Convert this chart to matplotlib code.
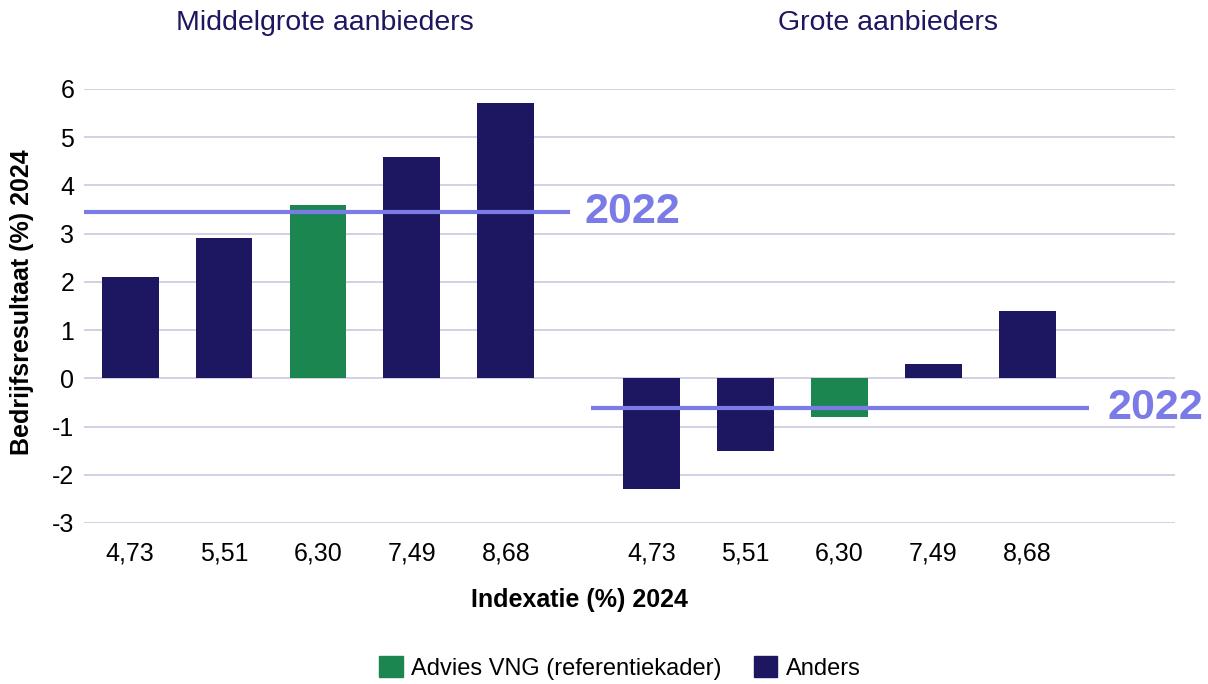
import matplotlib
matplotlib.use("Agg")
import matplotlib.pyplot as plt
from matplotlib.patches import Patch

plt.rcParams['font.family'] = ['Liberation Sans', 'DejaVu Sans']

# Data
groups = ["Middelgrote aanbieders", "Grote aanbieders"]
index_labels = ["4,73", "5,51", "6,30", "7,49", "8,68"]
middel_values = [2.1, 2.9, 3.6, 4.6, 5.7]
grote_values = [-2.3, -1.5, -0.8, 0.3, 1.4]
advies_index = 2  # 6,30 = Advies VNG
ref_2022 = [3.45, -0.62]
yticks = [-3, -2, -1, 0, 1, 2, 3, 4, 5, 6]

NAVY = "#1d1660"
GREEN = "#1b8650"
LAV = "#7b7be8"
GRID = "#cfcde0"

fig = plt.figure(figsize=(12.08, 6.84), dpi=100)
ax = fig.add_axes([84/1208, 1-523/684, (1175-84)/1208, 434/684])

offset = 5.55
xs_left = [i for i in range(len(index_labels))]
xs_right = [i + offset for i in range(len(index_labels))]
w = 0.606

for vals, xs in [(middel_values, xs_left), (grote_values, xs_right)]:
    colors = [GREEN if i == advies_index else NAVY for i in range(len(vals))]
    ax.bar(xs, vals, width=w, color=colors, zorder=2)

ax.set_xlim(-0.49, 11.12)
ax.set_ylim(-3, 6)
ax.set_yticks(yticks)
ax.set_yticklabels([str(t) for t in yticks], fontsize=18)
ax.yaxis.grid(True, color=GRID, linewidth=1.3, zorder=0)
ax.set_axisbelow(True)
ax.tick_params(axis='y', length=0, pad=7)
ax.tick_params(axis='x', length=0, pad=13)
ax.set_xticks(xs_left + xs_right)
ax.set_xticklabels(index_labels + index_labels, fontsize=18)
for s in ax.spines.values():
    s.set_visible(False)

# 2022 reference lines
line_extents = [(-0.49, 4.68), (4.91, 10.21)]
text_x = [4.84, 10.40]
for val, (x0, x1), tx in zip(ref_2022, line_extents, text_x):
    ax.plot([x0, x1], [val, val], color=LAV, linewidth=3, zorder=3, solid_capstyle='butt')
    ax.text(tx, val, "2022", color=LAV, fontsize=31, fontweight='bold', va='center', ha='left', zorder=4)

# Group titles
ax.text(2.07, 1.0 + 66/434, groups[0], transform=ax.get_xaxis_transform(), ha='center', va='center',
        fontsize=20.5, color=NAVY)
ax.text(8.07, 1.0 + 66/434, groups[1], transform=ax.get_xaxis_transform(), ha='center', va='center',
        fontsize=20.5, color=NAVY)

fig.text(22/1208, 1-302/684, "Bedrijfsresultaat (%) 2024", rotation=90, ha='center', va='center',
         fontsize=18, fontweight='bold')
fig.text(579/1208, 1-600/684, "Indexatie (%) 2024", ha='center', va='center', fontsize=18, fontweight='bold')

handles = [Patch(color=GREEN, label="Advies VNG (referentiekader)"), Patch(color=NAVY, label="Anders")]
fig.legend(handles=handles, loc='center', bbox_to_anchor=(620/1208, 1-668/684), ncol=2, frameon=False,
           fontsize=17, handlelength=1.0, handleheight=1.0, columnspacing=1.35, handletextpad=0.37)

fig.savefig("out.png", dpi=100)
